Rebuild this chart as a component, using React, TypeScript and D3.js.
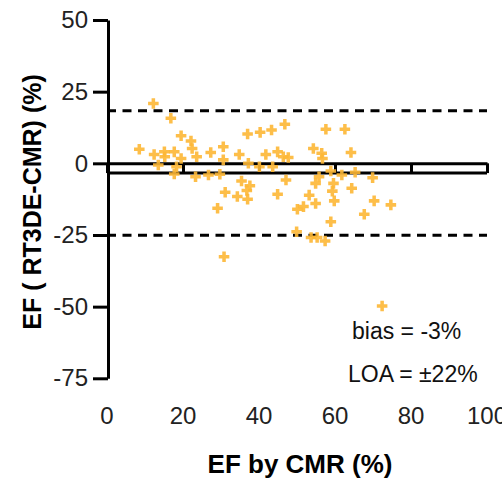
import React, { useRef, useEffect } from 'react';
import * as d3 from 'd3';

// EF by CMR (%) and difference RT3DE - CMR (%)
const cmrEF = [
  12.2, 16.8, 19.5, 22.1, 22.4, 23.6, 8.5, 12.4, 15.1, 15.2, 17.7, 19.5, 13.5, 18.3, 17.7, 23.3,
  46.8, 43.3, 40.3, 37.0, 30.6, 27.3, 34.8, 41.8, 44.9, 47.7, 46.4, 30.6, 37.2, 40.1, 43.6, 26.7,
  29.7, 47.1, 35.4, 37.6, 36.8, 31.1, 34.3, 37.0, 44.9, 29.1, 50.1, 49.9, 30.8,
  57.6, 62.6, 54.3, 56.5, 56.7, 64.2, 58.9, 55.8, 61.8, 65.3, 69.9, 54.9, 59.6, 59.3, 64.4, 53.2,
  54.9, 59.8, 70.3, 74.7, 51.7, 67.7, 58.9, 53.7, 55.3, 57.4, 72.4
];
const diffEF = [
  20.9, 15.7, 9.6, 7.8, 5.2, 2.3, 4.9, 3.1, 4.0, 2.3, 4.0, 1.7, -0.6, -1.2, -3.7, -4.7,
  13.6, 11.6, 10.8, 10.2, 5.8, 3.8, 3.1, 3.1, 4.0, 2.0, 2.3, 1.2, 0.0, -1.2, -1.2, -4.1,
  -3.8, -5.8, -6.2, -7.8, -9.5, -10.1, -11.6, -12.5, -10.8, -15.7, -16.0, -23.9, -32.6,
  11.9, 11.9, 5.2, 3.5, 1.7, 3.8, -2.7, -4.7, -4.1, -3.1, -5.0, -7.0, -7.0, -9.7, -8.7, -11.1,
  -14.0, -13.1, -13.1, -14.5, -15.1, -17.8, -20.4, -25.9, -25.9, -27.1, -49.8
];

const xTicks = [0, 20, 40, 60, 80, 100];
const yTicks = [50, 25, 0, -25, -50, -75];
const bias = -3.4;
const loaUpper = 18.3;
const loaLower = -25.1;
const notes = ['bias = -3%', 'LOA = \u00b122%'];

const W = 502;
const H = 481;
const FONT = '"Liberation Sans", Arial, sans-serif';

export default function App() {
  const svgRef = useRef<SVGSVGElement>(null);

  useEffect(() => {
    const x = d3.scaleLinear().domain([0, 100]).range([107, 487]);
    const y = d3.scaleLinear().domain([-75, 50]).range([378.3, 20]);

    const svg = d3.select(svgRef.current).html('');
    svg.append('rect').attr('width', W).attr('height', H).attr('fill', '#fff');

    // Limits of agreement
    [loaUpper, loaLower].forEach(v => {
      svg.append('line')
        .attr('x1', x(0)).attr('x2', x(100))
        .attr('y1', y(v)).attr('y2', y(v))
        .attr('stroke', '#000').attr('stroke-width', 3)
        .attr('stroke-dasharray', '9,6.5');
    });

    // Bias line
    svg.append('line')
      .attr('x1', x(0)).attr('x2', x(100))
      .attr('y1', y(bias)).attr('y2', y(bias))
      .attr('stroke', '#000').attr('stroke-width', 3);

    // x axis sitting on zero, ticks pointing down
    const xAxis = svg.append('g')
      .attr('transform', `translate(0,${y(0)})`)
      .call(d3.axisBottom(x).tickValues(xTicks).tickSize(y(bias) - y(0)).tickSizeOuter(0).tickFormat(() => ''));
    xAxis.select('.domain').attr('stroke-width', 3);
    xAxis.selectAll('.tick line').attr('stroke-width', 3);

    // y axis
    const yAxis = svg.append('g')
      .attr('transform', 'translate(108,0)')
      .call(d3.axisLeft(y).tickValues(yTicks).tickSize(15).tickSizeOuter(0).tickPadding(5)
        .tickFormat(d => String(d)));
    yAxis.select('.domain').attr('stroke-width', 3);
    yAxis.selectAll('.tick line').attr('stroke-width', 3);
    yAxis.selectAll('.tick text')
      .attr('font-size', 24).attr('font-family', FONT).attr('fill', '#222');

    // x tick labels along the bottom
    svg.append('g').selectAll('text').data(xTicks).join('text')
      .attr('x', d => x(d)).attr('y', 424)
      .attr('text-anchor', 'middle')
      .attr('font-size', 24).attr('font-family', FONT).attr('fill', '#222')
      .text(d => d);

    // Points
    const cross = d3.symbol().type(d3.symbolCross).size(62);
    svg.append('g').selectAll('path').data(cmrEF).join('path')
      .attr('transform', (d, i) => `translate(${x(d)},${y(diffEF[i])})`)
      .attr('d', cross)
      .attr('fill', '#FDB735')
      .attr('fill-opacity', 0.9);

    // Annotations
    svg.append('text').attr('x', 352).attr('y', 339)
      .attr('font-size', 23).attr('font-family', FONT).attr('fill', '#111')
      .text(notes[0]);
    svg.append('text').attr('x', 348).attr('y', 382)
      .attr('font-size', 23).attr('font-family', FONT).attr('fill', '#111')
      .text(notes[1]);

    // Axis titles
    svg.append('text').attr('x', 300).attr('y', 473)
      .attr('text-anchor', 'middle')
      .attr('font-size', 26).attr('font-weight', 'bold').attr('font-family', FONT)
      .text('EF by CMR (%)');
    svg.append('text')
      .attr('transform', 'translate(41,202) rotate(-90)')
      .attr('text-anchor', 'middle')
      .attr('font-size', 25).attr('font-weight', 'bold').attr('font-family', FONT)
      .text('EF ( RT3DE-CMR) (%)');
  }, []);

  return (
    <svg ref={svgRef} width={W} height={H}
      style={{ position: 'absolute', left: 0, top: 0, display: 'block' }} />
  );
}
